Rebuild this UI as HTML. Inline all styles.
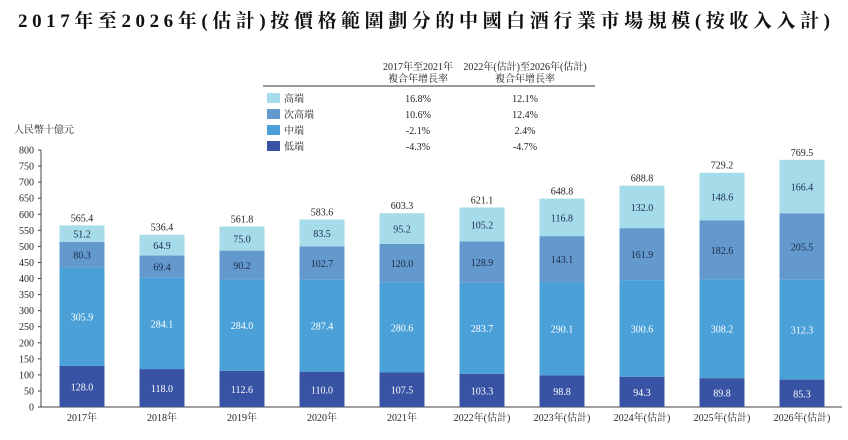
<!DOCTYPE html>
<html><head><meta charset="utf-8"><style>
body{margin:0;background:#fff;width:848px;height:435px;overflow:hidden;font-family:"Liberation Serif","Noto Serif CJK SC",serif;}
</style></head><body>
<svg id="c" width="848" height="435" xmlns="http://www.w3.org/2000/svg" font-family="'Liberation Serif','Noto Serif CJK SC',serif">
<text x="18" y="27" font-size="19" font-weight="bold" fill="#111" textLength="812" lengthAdjust="spacing">2017年至2026年(估計)按價格範圍劃分的中國白酒行業市場規模(按收入入計)</text>
<g font-size="10" fill="#222">
<text x="418" y="70" text-anchor="middle">2017年至2021年</text>
<text x="418" y="82" text-anchor="middle">複合年增長率</text>
<text x="525" y="70" text-anchor="middle">2022年(估計)至2026年(估計)</text>
<text x="525" y="82" text-anchor="middle">複合年增長率</text>
<line x1="263" y1="86" x2="595" y2="86" stroke="#333" stroke-width="1"/>
</g>
<g id="axes"></g>
<g id="bars"></g>
<g id="leg"></g>
<text x="14" y="133" font-size="10" fill="#222">人民幣十億元</text>
</svg>
<script>
const categories=["2017年","2018年","2019年","2020年","2021年","2022年(估計)","2023年(估計)","2024年(估計)","2025年(估計)","2026年(估計)"];
const lowEnd=[128.0,118.0,112.6,110.0,107.5,103.3,98.8,94.3,89.8,85.3];
const midEnd=[305.9,284.1,284.0,287.4,280.6,283.7,290.1,300.6,308.2,312.3];
const subHigh=[80.3,69.4,90.2,102.7,120.0,128.9,143.1,161.9,182.6,205.5];
const highEnd=[51.2,64.9,75.0,83.5,95.2,105.2,116.8,132.0,148.6,166.4];
const totals=[565.4,536.4,561.8,583.6,603.3,621.1,648.8,688.8,729.2,769.5];
const yTicks=[0,50,100,150,200,250,300,350,400,450,500,550,600,650,700,750,800];
const seriesNames=["高端","次高端","中端","低端"];
const cagr1=["16.8%","10.6%","-2.1%","-4.3%"];
const cagr2=["12.1%","12.4%","2.4%","-4.7%"];
const colors=["#a6dcea","#6499cd","#4aa0d7","#3853a4"];
const NS="http://www.w3.org/2000/svg";
const y=v=>407-v*257/800;
const x=i=>82+i*80;
function mk(tag,attrs,parent,text){const e=document.createElementNS(NS,tag);for(const k in attrs)e.setAttribute(k,attrs[k]);if(text!==undefined)e.textContent=text;parent.appendChild(e);return e;}
const ax=document.getElementById('axes');
let yl=mk('line',{x1:41,y1:y(0),x2:41,y2:y(800),stroke:'#444'},ax);


let xl=mk('line',{x1:41,y1:y(0),x2:842,y2:y(0),stroke:'#444'},ax);


yTicks.forEach(t=>{
 mk('line',{x1:38,y1:y(t),x2:41,y2:y(t),stroke:'#444'},ax);
 let tx=mk('text',{x:34,y:y(t)+3.5,'text-anchor':'end','font-size':10,fill:'#222'},ax,t);
 
 
});
const bg=document.getElementById('bars');
const series=[lowEnd,midEnd,subHigh,highEnd];
const cols=[colors[3],colors[2],colors[1],colors[0]];
const txtc=["#fff","#fff","#1a2a4a","#1a2a4a"];
const names=["low","mid","subhigh","high"];
categories.forEach((c,i)=>{
 let base=0;
 series.forEach((s,k)=>{
  const v=s[i];
  let r=mk('rect',{x:x(i)-22.5,y:y(base+v),width:45,height:y(base)-y(base+v),fill:cols[k]},bg);
  
  
  let t=mk('text',{x:x(i),y:(y(base)+y(base+v))/2+4,'text-anchor':'middle','font-size':10,fill:txtc[k]},bg,v.toFixed(1));
  
  
  base+=v;
 });
 let tt=mk('text',{x:x(i),y:y(base)-4,'text-anchor':'middle','font-size':10,fill:'#222'},bg,totals[i].toFixed(1));
 
 
 let cl=mk('text',{x:x(i),y:421,'text-anchor':'middle','font-size':10,fill:'#222'},bg,c);
 
 
});
const lg=document.getElementById('leg');
seriesNames.forEach((n,k)=>{
 const yy=93+k*16;
 let sw=mk('rect',{x:267,y:yy,width:13,height:10,fill:colors[k]},lg);
 
 
 let t=mk('text',{x:284,y:yy+9,'font-size':10,fill:'#222'},lg,n);
 
 
 mk('text',{x:418,y:yy+9,'text-anchor':'middle','font-size':10,fill:'#222'},lg,cagr1[k]);
 mk('text',{x:525,y:yy+9,'text-anchor':'middle','font-size':10,fill:'#222'},lg,cagr2[k]);
});
</script>
</body></html>
